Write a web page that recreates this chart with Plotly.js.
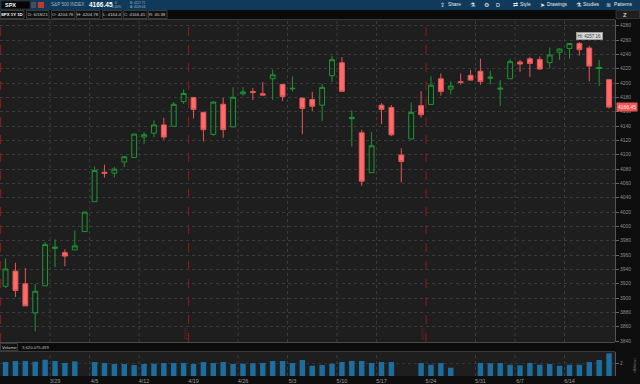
<!DOCTYPE html>
<html><head><meta charset="utf-8">
<script src="https://cdn.plot.ly/plotly-3.0.1.min.js"></script>
<style>html,body{margin:0;padding:0;background:#0c0c0c;overflow:hidden}#chart{width:640px;height:384px}</style>
</head><body><div id="chart"></div>
<script>
// ---- data (SPX daily) ----
const dates = ["3/22","3/23","3/24","3/25","3/26","3/29","3/30","3/31","4/1","4/5",
"4/6","4/7","4/8","4/9","4/12","4/13","4/14","4/15","4/16","4/19",
"4/20","4/21","4/22","4/23","4/26","4/27","4/28","4/29","4/30","5/3",
"5/4","5/5","5/6","5/7","5/10","5/11","5/12","5/13","5/17","5/18",
"5/19","5/20","5/21","5/24","5/25","5/26","5/27","5/28","6/1","6/2",
"6/3","6/4","6/7","6/8","6/9","6/10","6/11","6/14","6/15","6/16",
"6/17","6/18"];
const openP = [3916.48,3937.60,3919.93,3879.34,3917.12,3969.31,3963.34,3967.25,3992.78,4034.44,
4075.57,4074.29,4089.95,4096.11,4124.71,4130.10,4141.58,4139.76,4174.14,4179.80,
4159.18,4128.42,4170.46,4138.78,4185.03,4188.25,4185.14,4206.14,4198.10,4191.98,
4179.04,4177.06,4169.14,4210.34,4228.29,4150.34,4130.55,4074.99,4169.14,4165.94,
4099.60,4121.97,4168.61,4170.16,4205.94,4191.59,4201.94,4210.77,4216.52,4206.82,
4191.43,4206.05,4229.34,4233.81,4232.99,4228.56,4242.90,4248.31,4255.28,4248.87,
4220.37,4204.78];
const highP = [3955.31,3949.13,3942.08,3919.54,3978.19,3981.83,3968.01,3994.41,4020.63,4083.42,
4086.23,4083.13,4098.19,4129.48,4131.76,4148.00,4151.69,4173.49,4191.31,4180.81,
4159.18,4175.02,4179.57,4194.17,4194.19,4193.35,4201.53,4218.78,4198.10,4209.39,
4179.04,4187.72,4199.00,4238.04,4236.39,4162.04,4134.73,4131.58,4171.92,4169.15,
4109.00,4172.80,4188.72,4209.52,4213.42,4202.61,4213.38,4218.36,4234.12,4217.37,
4204.39,4233.45,4232.34,4236.74,4237.09,4249.74,4248.38,4255.59,4257.16,4251.89,
4232.29,4204.78];
const lowP = [3914.16,3901.57,3889.07,3853.50,3917.12,3943.25,3944.35,3966.98,3992.78,4034.44,
4068.14,4068.31,4082.54,4095.51,4114.82,4124.43,4120.87,4139.76,4170.75,4150.47,
4118.38,4126.35,4123.69,4138.78,4182.36,4176.22,4181.78,4176.81,4174.85,4188.03,
4128.59,4160.94,4147.33,4201.64,4188.13,4111.53,4056.59,4074.99,4142.69,4125.99,
4061.41,4121.97,4151.72,4170.16,4182.52,4184.11,4197.78,4203.57,4197.59,4198.27,
4167.93,4206.05,4215.66,4208.41,4218.74,4220.34,4232.25,4234.07,4238.35,4202.45,
4196.05,4164.40];
const closeP = [3940.59,3910.52,3889.14,3909.52,3974.54,3971.09,3958.55,3972.89,4019.87,4077.91,
4073.94,4079.95,4097.17,4128.80,4127.99,4141.59,4124.66,4170.42,4185.47,4163.26,
4134.94,4173.42,4134.98,4180.17,4187.62,4186.72,4183.18,4211.47,4181.17,4192.66,
4164.66,4167.59,4194.00,4232.60,4188.43,4152.10,4063.04,4112.50,4163.29,4127.83,
4090.50,4159.12,4155.86,4197.05,4188.13,4195.99,4200.88,4204.11,4202.04,4208.12,
4192.85,4229.89,4226.52,4227.26,4219.55,4239.18,4247.44,4255.15,4246.59,4223.70,
4221.86,4166.45];
// volume in billions (null = no bar drawn)
const volumeB = [2.23,2.39,2.39,2.28,2.60,2.39,2.07,2.34,null,2.23,
2.07,1.91,1.91,1.75,1.91,1.96,2.07,2.07,2.07,1.91,
2.23,2.07,2.23,1.91,1.96,2.03,2.07,2.39,2.39,2.07,
2.55,1.64,1.75,1.96,2.23,2.39,2.39,2.07,2.23,2.23,
null,null,2.07,1.80,2.07,1.32,null,null,2.07,2.03,
2.07,1.80,1.71,2.07,1.80,1.91,1.64,1.80,1.80,2.23,
2.55,3.62];
const tickDates  = ["3/29","4/5","4/12","4/19","4/26","5/3","5/10","5/17","5/24","6/1","6/7","6/14"];
const tickLabels = ["3/29","4/5","4/12","4/19","4/26","5/3","5/10","5/17","5/24","5/31","6/7","6/14"];
const expiryNext = ["3/22","4/19","5/24"];   // first session after monthly expiration
const expiryLabels = ["", "4/16/21", "5/21/21"];
const lastDate = "6/18/21", lastOpen = 4204.78, lastHigh = 4204.78, lastLow = 4164.4, lastClose = 4166.45, lastRange = 40.38;
const lastVolume = "3,620,075,499";
const hiDate = "6/15", hiValue = 4257.16;

// ---- layout helpers (pixel -> paper) ----
const W = 640, H = 384, ML = 0, MR = 25, MT = 20, MB = 8;
const PW = W - ML - MR, PH = H - MT - MB;
const px = X => (X - ML) / PW;
const py = Y => (H - MB - Y) / PH;
const FONT = "Liberation Sans, Arial, sans-serif";
const NARROW = "Liberation Sans Narrow, Liberation Sans, Arial, sans-serif";

const shapes = [];
const annotations = [];
function rect(x0, y0, x1, y1, fill, line, layer) {
  shapes.push({type:'rect', xref:'paper', yref:'paper', x0:px(x0), x1:px(x1), y0:py(y1), y1:py(y0),
    fillcolor:fill, line:{width: line ? 1 : 0, color: line || fill}, layer: layer || 'above'});
}
function hline(y, x0, x1, color) {
  shapes.push({type:'line', xref:'paper', yref:'paper', x0:px(x0), x1:px(x1), y0:py(y), y1:py(y),
    line:{color:color, width:1}, layer:'above'});
}
function txt(X, Y, s, size, color, bold, anchor, fam) {
  annotations.push({xref:'paper', yref:'paper', x:px(X), y:py(Y), text: bold ? '<b>'+s+'</b>' : s,
    showarrow:false, xanchor: anchor || 'left', yanchor:'middle',
    font:{family:fam || FONT, size:size, color:color}});
}

// top blue toolbar
rect(0, 0, 640, 10, '#0f3a5b');
rect(1, 1, 30, 9, '#050505', '#2b2b2b');
txt(3, 5, 'SPX', 5.5, '#ffffff', true);
rect(31, 2, 36, 8, '#4a4f55');
rect(38, 2, 44, 8, '#c0392b');
txt(49, 5, 'S&amp;P 500 INDEX', 4.6, '#9fb4c7');
txt(87, 5, lastClose.toFixed(2), 6.5, '#ffffff', true);
txt(116, 3.1, '0', 3.2, '#9fb4c7', false, 'center');
txt(116, 7.3, '0.00%', 3.2, '#9fb4c7', false, 'center');
txt(128, 3.1, 'B: 4117.71', 3.2, '#9fb4c7');
txt(128, 7.3, 'A: 4209.06', 3.2, '#9fb4c7');
const tools = [[438,'⇪',446,'Share'],[468,'⚗',0,''],[482,'⚙',0,''],[494,'D',0,''],[511,'⇄',518,'Style'],[538,'➤',545,'Drawings'],[574,'⚗',581,'Studies'],[604,'≋',612,'Patterns']];
tools.forEach(t => { txt(t[0], 5, t[1], 5.5, '#e8eef4'); if (t[3]) txt(t[2], 5, t[3], 4.8, '#e8eef4'); });

// info bar
rect(0, 10, 640, 19, '#0a0a0a');
const infoBoxes = [[0,24,'SPX 1Y 1D',true],[26,49,'D: '+lastDate,false],[51,75,'O: '+lastOpen.toFixed(2),false],
  [76,100,'H: '+lastHigh.toFixed(2),false],[102,122,'L: '+lastLow,false],[123,147,'C: '+lastClose.toFixed(2),false],[148,167,'R: '+lastRange,false]];
infoBoxes.forEach(b => { rect(b[0]+0.5, 10.5, b[1], 18.5, '#101010', '#3a3a3a'); txt((b[0]+b[1])/2, 14.6, b[2], 4.3, b[3] ? '#ffffff' : '#cfcfcf', b[3], 'center'); });
rect(616, 10.5, 639.5, 18.5, '#1e1e1e', '#333');
txt(621, 14.6, 'Z', 6, '#cfcfcf', true);
hline(19.5, 0, 615, '#3c3c3c');

// volume header strip
rect(0, 342, 615, 351.5, '#0b0b0b');
hline(342.5, 0, 615, '#4a4a4a');
hline(351.5, 0, 615, '#3a3a3a');
rect(0.5, 343.5, 17.5, 350.5, '#101010', '#3a3a3a');
txt(9, 347, 'Volume:', 4.2, '#d0d0d0', false, 'center');
txt(19.5, 347, lastVolume, 4.2, '#bdbdbd');
txt(635, 366, '&lt;Billions&gt;', 3.5, '#8c8c8c', false, 'center');
annotations[annotations.length-1].textangle = -90;

// week-boundary grid lines (dotted) in both panes
tickDates.forEach(d => {
  const xi = dates.indexOf(d) - 0.5;
  if (expiryNext.includes(d)) return;
  ['y domain','y2 domain'].forEach(r => shapes.push({type:'line', xref:'x', yref:r, x0:xi, x1:xi, y0:0, y1:1,
    line:{color:'#3c3c3c', width:1, dash:'dot'}, layer:'below'}));
});
// monthly expiration dashed red lines + rotated labels
expiryNext.forEach((d, k) => {
  const xi = dates.indexOf(d) - 0.5;
  shapes.push({type:'line', xref:'x', yref:'y domain', x0:xi, x1:xi, y0:0, y1:1,
    line:{color:'#8e1c1c', width:1, dash:'dash'}, layer:'above'});
  if (expiryLabels[k]) annotations.push({xref:'x', yref:'paper', x:xi, y:py(334), xshift:-3, textangle:-90,
    text:expiryLabels[k], showarrow:false, xanchor:'center', yanchor:'middle',
    font:{family:FONT, size:3.6, color:'#8e2424'}});
});

// last price tag & high bubble
annotations.push({xref:'paper', yref:'y', x:1, y:lastClose, xanchor:'left', yanchor:'middle', xshift:1,
  text:lastClose.toFixed(2), showarrow:false, bgcolor:'#f05656', borderpad:1,
  font:{family:FONT, size:5, color:'#ffe6e6'}});
annotations.push({xref:'x', yref:'y', x:dates.indexOf(hiDate) - 0.3, y:hiValue, xanchor:'left', yanchor:'bottom', yshift:2,
  text:'Hi: ' + hiValue.toFixed(2), showarrow:false, bgcolor:'#d8d8d8', bordercolor:'#9a9a9a', borderwidth:1, borderpad:0.5,
  font:{family:FONT, size:4.5, color:'#333333'}});

const traces = [
  {type:'candlestick', x:dates, open:openP, high:highP, low:lowP, close:closeP, xaxis:'x', yaxis:'y',
   increasing:{line:{color:'#1d9632', width:1}, fillcolor:'rgba(0,0,0,0)'},
   decreasing:{line:{color:'#e35757', width:1}, fillcolor:'#ff6a6a'},
   whiskerwidth:0, hoverinfo:'skip', showlegend:false},
  {type:'bar', x:dates, y:volumeB.map(v => v == null ? null : v * 1e9), xaxis:'x', yaxis:'y2',
   marker:{color:'#1c6e9f', line:{width:0}}, hoverinfo:'skip', showlegend:false}
];

const layout = {
  width:W, height:H, margin:{l:ML, r:MR, t:MT, b:MB, pad:0},
  paper_bgcolor:'#0e0e0e', plot_bgcolor:'#1e1e1e',
  font:{family:FONT, color:'#9a9a9a'},
  showlegend:false, bargap:0.45, boxgap:0.3,
  xaxis:{type:'category', range:[-0.56, dates.length - 0.4], anchor:'y2', showgrid:false, zeroline:false,
    tickmode:'array', tickvals:tickDates, ticktext:tickLabels, ticks:'', tickfont:{size:5.5, color:'#9a9a9a'},
    rangeslider:{visible:false}, showline:false, fixedrange:true},
  yaxis:{domain:[py(342), 1], range:[3838.7, 4288], side:'right', anchor:'x', tick0:3840, dtick:20, tickformat:'d',
    ticks:'outside', ticklen:3, tickcolor:'#666', tickfont:{size:5, color:'#8c8c8c'},
    showgrid:true, gridcolor:'#3a3a3a', griddash:'dot', zeroline:false, showline:true, linecolor:'#555', fixedrange:true},
  yaxis2:{domain:[0, py(352)], range:[0, 3.83e9], side:'right', anchor:'x', tickmode:'array', tickvals:[2e9], ticktext:['2'],
    ticks:'outside', ticklen:3, tickcolor:'#666', tickfont:{size:5, color:'#8c8c8c'},
    showgrid:true, gridcolor:'#333', griddash:'dot', zeroline:false, showline:true, linecolor:'#555', fixedrange:true},
  shapes:shapes, annotations:annotations
};
Plotly.newPlot('chart', traces, layout, {staticPlot:true, displayModeBar:false});
</script></body></html>
